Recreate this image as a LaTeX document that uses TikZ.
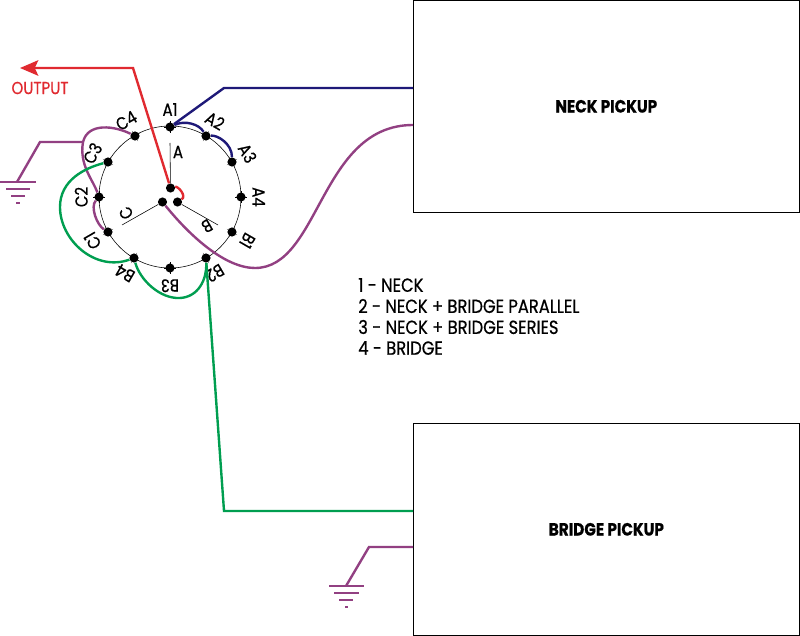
\documentclass[tikz,border=0pt]{standalone}
\usepackage{fontspec}
\setmainfont[FakeStretch=0.86,FakeBold=0.6]{Poppins}
\usepackage{xcolor}
\usetikzlibrary{arrows, arrows.meta, calc}
\definecolor{wirered}{RGB}{224,42,48}
\definecolor{wirenavy}{RGB}{30,25,120}
\definecolor{wirepurple}{RGB}{146,64,130}
\definecolor{wiregreen}{RGB}{0,158,80}
\tikzset{
  pickup/.style={draw,thin,anchor=north west,inner sep=0pt,minimum width=9.65cm,minimum height=5.3cm,font=\fontsize{12.6}{13}\selectfont\bfseries},
  lug/.style={circle,fill=black,inner sep=0pt,minimum size=6.5pt},
  wire/.style={line width=1.7pt},
  lab/.style={font=\fontsize{12.4}{13}\selectfont,inner sep=0pt},
  legend/.style={font=\fontsize{13.5}{14}\selectfont,inner sep=0pt,anchor=west},
}
\begin{document}
\begin{tikzpicture}[x=0.025cm,y=-0.025cm]
\useasboundingbox (0,0) rectangle (800,636);

%pickups
\node[pickup] (neck) at (413,0) {NECK PICKUP};
\node[pickup] (bridge) at (413,423) {BRIDGE PICKUP};
\coordinate (neckhot) at (413,88);
\coordinate (neckgnd) at (413,125);
\coordinate (bridgehot) at (413,511);
\coordinate (bridgegnd) at (413,547);

%switch circle
\coordinate (hub) at (170,197);
\draw[thin] (170,197) circle [radius=71];

%lugs on the circle, with ticks and labels
\foreach \name/\xx/\yy/\rot/\txt in {
  a1/170/127/0/A1, a2/206/136/-30/A2, a3/232/162/-60/A3, a4/241/197/-90/A4,
  b1/232/232/-120/B1, b2/206/258/-150/B2, b3/170/268/180/B3, b4/134/258/150/B4,
  c1/108/232/120/C1, c2/99/197/90/C2, c3/108/162/60/C3, c4/135/136/30/C4}{
  \node[lug] (\name) at (\xx,\yy) {};
  \draw[ultra thin] (\xx,\yy) ++(-\rot:6) -- ++(-\rot:-12);
  \draw[ultra thin] (\xx,\yy) ++(-\rot+90:6) -- ++(-\rot+90:-12);
  \node[lab,rotate=\rot] at ($(hub)!1.25!(\xx,\yy)$) {\txt};
}

%rotor contacts
\node[lug] (ca) at (170.5,188) {};
\node[lug] (cb) at (177.5,202) {};
\node[lug] (cc) at (162.5,202) {};
\coordinate (ea) at (170,143);
\coordinate (eb) at (218,225);
\coordinate (ec) at (122,225);
\draw[thin] (ca) -- (ea);
\draw[thin] (cb) -- (eb);
\draw[thin] (cc) -- (ec);
\node[lab] at (178,152) {A};
\node[lab,rotate=-150] at (207,226) {B};
\node[lab,rotate=120] at (126,213) {C};

%output
\coordinate (outtip) at (20,68);
\coordinate (outbend) at (133,68);
\draw[wire,wirered,-{Stealth[length=13pt,width=11pt,inset=2.5pt]}] (ca) -- (outbend) -- (outtip);
\draw[wire,wirered] (ca) .. controls (178,186) and (187,196) .. (cb);
\node[lab,wirered] at (40,88) {OUTPUT};

%neck wires
\coordinate (neckbend) at (224,88);
\draw[wire,wirenavy] (a1) -- (neckbend) -- (neckhot);
\draw[wire,wirenavy] (a1) .. controls (185,120) and (199,124) .. (a2);
\draw[wire,wirenavy] (a2) .. controls (218,135) and (232,144) .. (a3);
\draw[wire,wirepurple] (cc) .. controls (190,236) and (225,268) .. (255,268)
  .. controls (320,268) and (320,125) .. (neckgnd);

%ground side
\coordinate (gndjoin) at (83,142);
\coordinate (gndbend) at (40,142);
\coordinate (gndfoot) at (17,182);
\draw[wire,wirepurple] (gndjoin) -- (gndbend) -- (gndfoot);
\draw[wire,wirepurple] (gndjoin) .. controls (88,122) and (115,126) .. (c4);
\draw[wire,wirepurple] (gndjoin) .. controls (79,165) and (93,180) .. (c2);
\draw[wire,wirepurple] (c2) .. controls (90,207) and (97,225) .. (c1);
\draw[wire,wirepurple] (0,182) -- (36,182);
\draw[wire,wirepurple] (6,189) -- (30,189);
\draw[wire,wirepurple] (11,196) -- (25,196);
\draw[wire,wirepurple] (16,203) -- (20,203);

%bridge wires
\coordinate (bridgebend) at (224,511);
\draw[wire,wiregreen] (b2) -- (bridgebend) -- (bridgehot);
\draw[wire,wiregreen] (c3) .. controls (85,168) and (60,180) .. (60,207)
  .. controls (60,240) and (95,272) .. (b4);
\draw[wire,wiregreen] (b4) .. controls (140,280) and (160,299) .. (180,298)
  .. controls (198,297) and (207,280) .. (b2);
\coordinate (bgndbend) at (369,547);
\coordinate (bgndfoot) at (346,586);
\draw[wire,wirepurple] (bridgegnd) -- (bgndbend) -- (bgndfoot);
\draw[wire,wirepurple] (329,586) -- (364,586);
\draw[wire,wirepurple] (334,593) -- (359,593);
\draw[wire,wirepurple] (339,600) -- (353,600);
\draw[wire,wirepurple] (345,607) -- (348,607);

%legend
\node[legend] at (358,285) {1 - NECK};
\node[legend] at (358,306) {2 - NECK + BRIDGE PARALLEL};
\node[legend] at (358,327) {3 - NECK + BRIDGE SERIES};
\node[legend] at (358,348) {4 - BRIDGE};
\end{tikzpicture}
\end{document}
